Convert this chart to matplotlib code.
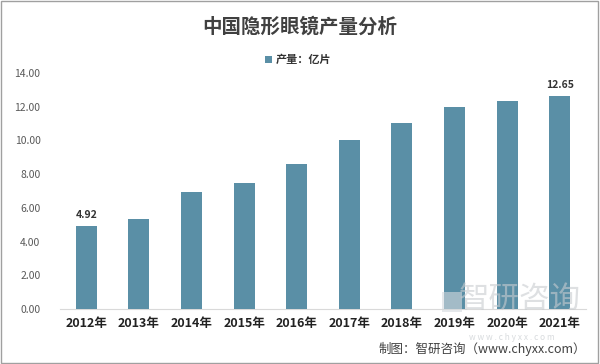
import matplotlib
matplotlib.use("Agg")
import matplotlib.pyplot as plt
from matplotlib.patches import Rectangle

plt.rcParams['font.family'] = ['Noto Sans CJK SC', 'DejaVu Sans']

years = ["2012年", "2013年", "2014年", "2015年", "2016年", "2017年", "2018年", "2019年", "2020年", "2021年"]
values = [4.92, 5.33, 6.95, 7.48, 8.6, 10.02, 11.03, 11.98, 12.34, 12.65]
yticks = [0, 2, 4, 6, 8, 10, 12, 14]
title = "中国隐形眼镜产量分析"
legend_label = "产量：亿片"
source = "制图：智研咨询（www.chyxx.com）"
bar_color = "#5a8fa6"

fig = plt.figure(figsize=(6.0, 3.64), dpi=100)
fig.patch.set_facecolor("white")
ax = fig.add_axes([60/600, 1-309/364, 526/600, (309-73)/364])

x = list(range(len(years)))
ax.bar(x, values, width=0.4, color=bar_color, zorder=3)
ax.set_xlim(-0.5, len(years)-0.5)
ax.set_ylim(0, 14)
ax.set_yticks(yticks)
ax.set_yticklabels([f"{v:.2f}" for v in yticks], fontsize=7.5, color="#595959")
ax.set_xticks(x)
ax.set_xticklabels(years, fontsize=9, fontweight="bold", color="#222222")
ax.tick_params(axis="both", length=0)
ax.tick_params(axis="x", pad=6)
ax.tick_params(axis="y", pad=14)
for s in ["top", "right", "left"]:
    ax.spines[s].set_visible(False)
ax.spines["bottom"].set_color("#d9d9d9")

for i in (0, len(values)-1):
    ax.text(x[i], values[i] + 0.35, f"{values[i]:.2f}", ha="center", va="bottom",
            fontsize=7.5, color="#333333", fontweight="bold")

fig.text(0.5, 1-27/364, title, ha="center", va="center", fontsize=14, fontweight="bold", color="#404040")
fig.patches.append(Rectangle((265/600, 1-63/364), 7/600, 7/364, transform=fig.transFigure,
                             facecolor=bar_color, edgecolor="none"))
fig.text(276/600, 1-59/364, legend_label, ha="left", va="center", fontsize=8, fontweight="bold", color="#333333")

# watermark
fig.patches.append(Rectangle((442/600, 1-312/364), 20/600, 20/364, transform=fig.transFigure,
                             facecolor="#d5dade", edgecolor="none", alpha=0.6, zorder=10))
fig.text(520/600, 1-299/364, "智研咨询", ha="center", va="center", fontsize=22, color="#c8ccd0", alpha=0.6, zorder=10)
fig.text(512/600, 1-337/364, "w w w . c h y x x . c o m", ha="center", va="center", fontsize=6, color="#c8ccd0", alpha=0.7, zorder=1)

fig.text(586/600, 1-349/364, source, ha="right", va="center", fontsize=9, color="#404040")

fig.patches.append(Rectangle((0.002, 0.003), 0.995, 0.994, transform=fig.transFigure,
                             facecolor="none", edgecolor="#a0a0a0", linewidth=1))

fig.savefig("out.png", dpi=100, facecolor="white")
